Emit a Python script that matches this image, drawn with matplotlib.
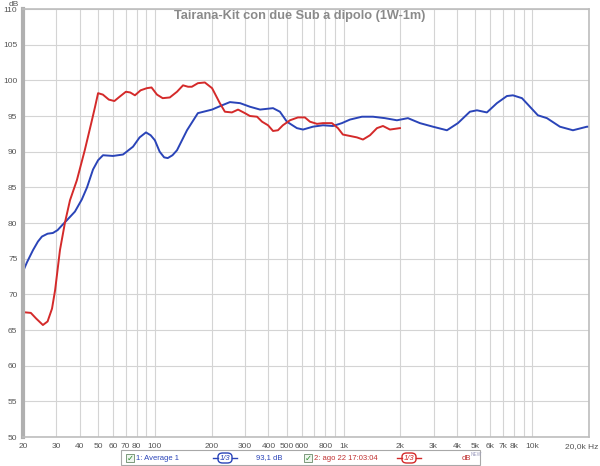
import matplotlib
matplotlib.use('Agg')
import matplotlib.pyplot as plt
from matplotlib.patches import Rectangle, FancyBboxPatch

# series (Hz, dB)
red_freq = [20, 22, 23.5, 25.5, 27, 28.5, 29.6, 31.4, 33.4, 35.5, 38.6, 42.5, 46, 48.2, 50,
            53, 57, 61, 65, 70.2, 74, 78.4, 84, 90.6, 96, 102.6, 110, 120, 131, 141, 150,
            157, 169, 184, 201, 221, 235, 256, 276, 300, 319, 348, 370, 398, 423, 449, 477,
            520, 573, 624, 664, 723, 778, 868, 934, 992, 1082, 1178, 1268, 1381, 1504, 1618,
            1762, 1990]
red_db = [67.5, 67.4, 66.6, 65.7, 66.2, 68.0, 70.6, 76.2, 80.1, 83.2, 86.0, 90.2, 94.0, 96.3, 98.2,
          98.0, 97.3, 97.1, 97.7, 98.4, 98.3, 97.9, 98.6, 98.9, 99.0, 98.0, 97.5, 97.6, 98.4, 99.3, 99.1,
          99.1, 99.6, 99.7, 98.9, 96.8, 95.6, 95.5, 95.9, 95.4, 95.0, 94.9, 94.2, 93.7, 92.9, 93.0, 93.7,
          94.4, 94.8, 94.8, 94.2, 93.9, 94.0, 94.0, 93.3, 92.4, 92.2, 92.0, 91.7, 92.3, 93.3, 93.6,
          93.1, 93.3]

blue_freq = [20, 21, 22.6, 24, 25.2, 27, 28.8, 30.5, 32, 34.2, 37.7, 41, 43.7, 47, 50, 53.1, 60,
             67.8, 76.6, 83, 89.7, 95, 100, 106, 112, 117, 124, 131, 148, 169, 201, 227, 250, 283,
             319, 361, 423, 460, 501, 566, 610, 688, 778, 879, 980, 1082, 1252, 1432, 1656, 1918,
             2194, 2541, 2978, 3532, 4038, 4674, 5094, 5752, 6500, 7345, 7905, 8825, 9725, 10716,
             11967, 14025, 16440, 19500, 20000]
blue_db = [73.2, 74.5, 76.2, 77.4, 78.1, 78.5, 78.6, 79.0, 79.6, 80.4, 81.6, 83.3, 85.0, 87.5, 88.8, 89.5, 89.4,
           89.6, 90.7, 92.0, 92.7, 92.3, 91.6, 90.0, 89.2, 89.1, 89.5, 90.2, 93.0, 95.4, 95.9, 96.5, 96.95, 96.8,
           96.3, 95.9, 96.1, 95.6, 94.2, 93.3, 93.1, 93.5, 93.7, 93.6, 94.0, 94.5, 94.9, 94.9, 94.7, 94.4,
           94.7, 94.0, 93.5, 93.0, 94.0, 95.6, 95.8, 95.5, 96.8, 97.8, 97.9, 97.5, 96.3, 95.1,
           94.7, 93.5, 93.0, 93.5, 93.5]

x_ticks = [20, 30, 40, 50, 60, 70, 80, 100, 200, 300, 400, 500, 600, 800, 1000,
           2000, 3000, 4000, 5000, 6000, 7000, 8000, 10000]
x_labels = ['20', '30', '40', '50', '60', '70', '80', '100', '200', '300', '400', '500', '600',
            '800', '1k', '2k', '3k', '4k', '5k', '6k', '7k', '8k', '10k']
y_ticks = list(range(50, 111, 5))

plt.rcParams['font.family'] = ['Liberation Sans', 'DejaVu Sans']

fig = plt.figure(figsize=(6, 4.66), dpi=100)
ax = fig.add_axes([23/600, 1-437/466, 566/600, 428/466])

grid_x = []
for dec in [10, 100, 1000, 10000]:
    for m in range(1, 10):
        f = dec*m
        if 20 <= f <= 20000:
            grid_x.append(f)
grid_x.append(20000)
for f in grid_x:
    ax.axvline(f, color='#d4d4d4', lw=0.8, zorder=0)
for y in y_ticks:
    ax.axhline(y, color='#d4d4d4', lw=0.8, zorder=0)

ax.plot(blue_freq, blue_db, color='#2a44b8', lw=1.4)
ax.plot(red_freq, red_db, color='#d42a2a', lw=1.4)

ax.set_xscale('log')
ax.set_xlim(20, 20000)
ax.set_ylim(50, 110)
ax.xaxis.set_minor_locator(matplotlib.ticker.NullLocator())
ax.set_xticks(x_ticks)
ax.set_xticklabels(x_labels)
ax.set_yticks(y_ticks)
ax.tick_params(length=0, labelsize=6, labelcolor='#555555', pad=4)

for s in ['top', 'right', 'bottom']:
    ax.spines[s].set_color('#bdbdbd')
    ax.spines[s].set_linewidth(1.2)
ax.spines['left'].set_color('#b0b0b0')
ax.spines['left'].set_linewidth(3)

fig.text(598/600, 1-447/466, '20,0k Hz', ha='right', va='center', fontsize=6, color='#555555')
fig.text(14/600, 1-4/466, 'dB', ha='center', va='center', fontsize=6, color='#555555')
fig.text(0.5, 1-16/466, 'Tairana-Kit con due Sub a dipolo (1W-1m)', ha='center', va='center',
         fontsize=9.2, fontweight='bold', color='#8a8a8a')

# legend strip at the bottom
H = 466
fig.patches.append(Rectangle((121/600, 1-465/H), 359/600, 15/H, transform=fig.transFigure,
                             fc='white', ec='#a8a8a8', lw=0.8))
for cx in [126, 304]:
    fig.patches.append(Rectangle((cx/600, 1-462/H), 8/600, 8/H, transform=fig.transFigure,
                                 fc='#eef6ee', ec='#6a8a6a', lw=0.6))
    fig.text((cx+4)/600, 1-458/H, '\u2713', ha='center', va='center', fontsize=6,
             color='#2a8a2a', family='DejaVu Sans')
fig.text(136/600, 1-458/H, '1: Average 1', ha='left', va='center', fontsize=5.5, color='#2a44b8')
fig.text(256/600, 1-458/H, '93,1 dB', ha='left', va='center', fontsize=5.5, color='#2a44b8')
fig.text(314/600, 1-458/H, '2: ago 22 17:03:04', ha='left', va='center', fontsize=5.5, color='#c03030')
fig.text(462/600, 1-458/H, 'dB', ha='left', va='center', fontsize=5.5, color='#c03030')
fig.text(471/600, 1-455/H, 'NEW', ha='left', va='center', fontsize=3.5, color='#a0a0c0')
for bx, col in [(218, '#2a44b8'), (402, '#d42a2a')]:
    fig.patches.append(FancyBboxPatch((bx/600, 1-463/H), 14/600, 10/H, transform=fig.transFigure,
                                      boxstyle='round,pad=0,rounding_size=0.008',
                                      fc='white', ec=col, lw=1.0))
    fig.lines.append(matplotlib.lines.Line2D([(bx-5)/600, bx/600], [1-458/H]*2,
                                             transform=fig.transFigure, color=col, lw=1.0))
    fig.lines.append(matplotlib.lines.Line2D([(bx+14)/600, (bx+19)/600], [1-458/H]*2,
                                             transform=fig.transFigure, color=col, lw=1.0))
    fig.text((bx+7)/600, 1-458/H, '1/3', ha='center', va='center', fontsize=5.5, color=col,
             style='italic')

fig.savefig('out.png', dpi=100)
